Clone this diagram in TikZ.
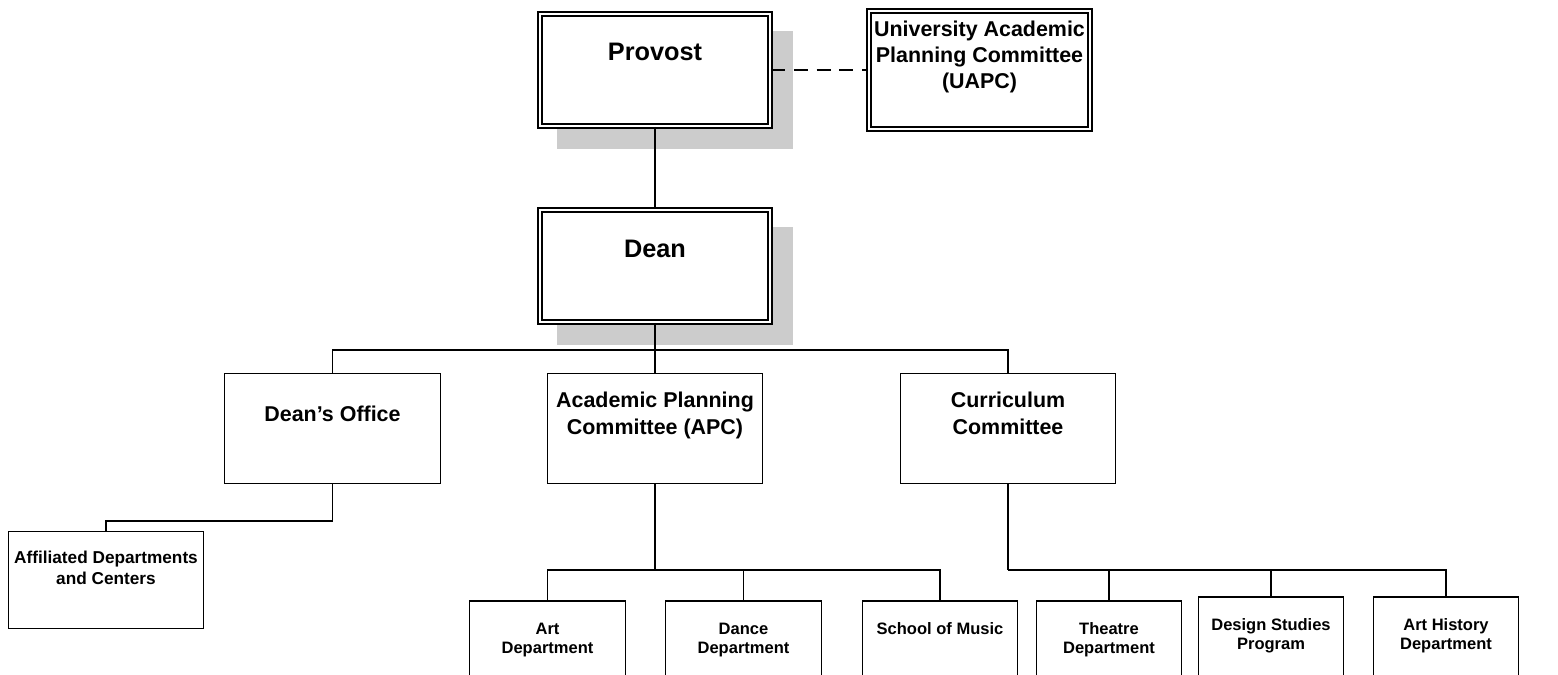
\documentclass[tikz,border=0pt]{standalone}
\usepackage{fontspec}
\setmainfont{Liberation Sans}
\usetikzlibrary{shadows}
\begin{document}
\begin{tikzpicture}[x=0.02cm, y=-0.02cm,
	head/.style={
		rectangle, draw, double, line width=1.05pt, double distance=1.1pt,
		fill=white, minimum width=4.6cm, minimum height=2.24cm},
	shade/.style={drop shadow={shadow xshift=0.4cm, shadow yshift=-0.4cm,
		opacity=1, fill=black!20, draw=black!20, line width=3pt}},
	unit/.style={rectangle, draw, line width=0.8pt, fill=white,
		minimum width=4.31cm, minimum height=2.19cm},
	dept/.style={unit, minimum width=3.11cm, minimum height=2cm},
	txt/.style={anchor=north, align=center, inner sep=0pt},
	t1/.style={txt, font=\fontsize{14.4}{17}\selectfont\bfseries},
	t2/.style={txt, font=\fontsize{12.2}{14.7}\selectfont\bfseries},
	t3/.style={txt, font=\fontsize{12.2}{15}\selectfont\bfseries},
	t4/.style={txt, font=\fontsize{9.8}{11.7}\selectfont\bfseries},
	t5/.style={txt, font=\fontsize{9.4}{11}\selectfont\bfseries},
	link/.style={line width=0.6pt}]
	\useasboundingbox (0,0) rectangle (1558,674);
	\clip (0,0) rectangle (1558,674);
	\node[head, shade, label={[t1, yshift=-0.6cm]north:Provost}] (prov) at (655,70) {};
	\node[head, minimum width=4.42cm, minimum height=2.36cm,
		label={[t2, yshift=-0.22cm]north:{University Academic\\Planning Committee\\(UAPC)}}] (uapc) at (979.5,70) {};
	\node[head, shade, label={[t1, yshift=-0.62cm]north:Dean}] (dean) at (655,266) {};
	\node[unit, label={[t3, yshift=-0.66cm]north:{Dean’s Office}}] (office) at (332.5,428.5) {};
	\node[unit, label={[t3, yshift=-0.38cm]north:{Academic Planning\\Committee (APC)}}] (apc) at (655,428.5) {};
	\node[unit, label={[t3, yshift=-0.38cm]north:{Curriculum\\Committee}}] (curr) at (1008,428.5) {};
	\node[unit, minimum width=3.89cm, minimum height=1.93cm,
		label={[t4, yshift=-0.4cm]north:{Affiliated Departments\\and Centers}}] (affil) at (106,580) {};
	\node[dept, label={[t5, yshift=-0.45cm]north:{Art\\Department}}] (art) at (547.5,651) {};
	\node[dept, label={[t5, yshift=-0.45cm]north:{Dance\\Department}}] (dance) at (743.5,651) {};
	\node[dept, label={[t5, yshift=-0.44cm]north:{School of Music}}] (music) at (940,651) {};
	\node[dept, minimum width=2.89cm, label={[t5, yshift=-0.44cm]north:{Theatre\\Department}}] (theatre) at (1109,651) {};
	\node[dept, minimum width=2.89cm, label={[t5, yshift=-0.44cm]north:{Design Studies\\Program}}] (design) at (1271,647) {};
	\node[dept, minimum width=2.89cm, label={[t5, yshift=-0.44cm]north:{Art History\\Department}}] (arthist) at (1446,647) {};
	\coordinate (b1) at (655,350);
	\coordinate (b2) at (332.5,521);
	\coordinate (b3) at (655,570);
	\coordinate (b4) at (1008,570);
	\draw[link] (prov) -- (dean);
	\draw[line width=1.1pt, dash pattern=on 8pt off 5pt] (prov) -- (uapc);
	\draw[link] (dean) -- (b1) -- (apc);
	\draw[link] (b1) -| (office);
	\draw[link] (b1) -| (curr);
	\draw[link] (office) -- (b2) -| (affil);
	\draw[link] (apc) -- (b3);
	\draw[link] (curr) -- (b4);
	\draw[link] (b3) -| (art);
	\draw[link] (b3) -| (dance);
	\draw[link] (b3) -| (music);
	\draw[link] (b4) -| (theatre);
	\draw[link] (b4) -| (design);
	\draw[link] (b4) -| (arthist);
\end{tikzpicture}
\end{document}
